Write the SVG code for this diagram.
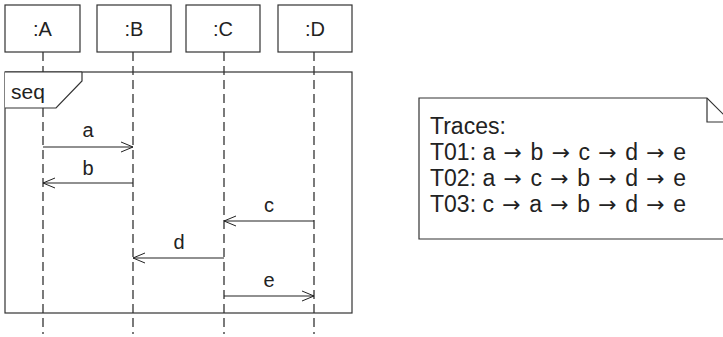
<svg xmlns="http://www.w3.org/2000/svg" width="723" height="337" viewBox="0 0 723 337">
<defs>
<marker id="open" markerWidth="14" markerHeight="12" refX="13" refY="6" orient="auto" markerUnits="userSpaceOnUse">
<path d="M1,1 L13,6 L1,11" fill="none" stroke="#222" stroke-width="1"/>
</marker>
</defs>
<style>
.box{fill:#fff;stroke:#333;stroke-width:1.2}
.life{stroke:#222;stroke-width:1.2;stroke-dasharray:9,5;fill:none}
.msg{stroke:#222;stroke-width:1.2;fill:none;marker-end:url(#open)}
text{font-family:"Liberation Sans",Arial,sans-serif;fill:#222}
.lbl{font-size:20px;text-anchor:middle}
.ml{font-size:20px;text-anchor:middle}
.sq{font-size:21px}
.nt{font-size:23px}
.ar{font-family:"DejaVu Sans",sans-serif;font-size:22px}
</style>
<g id="lifelines">
<line class="life" x1="43" y1="52" x2="43" y2="334"/>
<line class="life" x1="133" y1="52" x2="133" y2="334"/>
<line class="life" x1="224" y1="52" x2="224" y2="334"/>
<line class="life" x1="314" y1="52" x2="314" y2="334"/>
</g>
<g id="frame">
<rect x="5" y="72" width="347" height="241" fill="none" stroke="#333" stroke-width="1.2"/>
<path d="M5,72 L82,72 L82,81 L56,108 L5,108 Z" fill="#fff" stroke="none"/>
<path d="M5,108 L56,108 L82,81 L82,72" fill="none" stroke="#333" stroke-width="1.2"/>
<line x1="5" y1="72" x2="82" y2="72" stroke="#333" stroke-width="1.2"/>
<text class="sq" x="11" y="99">seq</text>
</g>
<g id="A"><rect class="box" x="5" y="5" width="75" height="47"/><text class="lbl" x="42.5" y="36">:A</text></g>
<g id="B"><rect class="box" x="97" y="5" width="74" height="47"/><text class="lbl" x="134" y="36">:B</text></g>
<g id="C"><rect class="box" x="186" y="5" width="74" height="47"/><text class="lbl" x="223" y="36">:C</text></g>
<g id="D"><rect class="box" x="278" y="5" width="74" height="47"/><text class="lbl" x="315" y="36">:D</text></g>
<g id="connectors">
<line class="msg" x1="43" y1="147" x2="133" y2="147"/>
<line class="msg" x1="133" y1="183" x2="43" y2="183"/>
<line class="msg" x1="314" y1="221" x2="224" y2="221"/>
<line class="msg" x1="224" y1="258" x2="133" y2="258"/>
<line class="msg" x1="224" y1="296" x2="314" y2="296"/>
<text class="ml" x="88" y="137">a</text>
<text class="ml" x="88" y="175">b</text>
<text class="ml" x="269" y="212">c</text>
<text class="ml" x="179" y="249">d</text>
<text class="ml" x="269" y="287">e</text>
</g>
<g id="note">
<path d="M419,98 L707,98 L731,122 L731,239 L419,239 Z" fill="#fff" stroke="#333" stroke-width="1.2"/>
<path d="M707,98 L707,122 L731,122" fill="none" stroke="#333" stroke-width="1.2"/>
<text class="nt" x="430" y="134">Traces:</text>
<text class="nt" x="430" y="160">T01: a <tspan class="ar" dx="2">→</tspan><tspan dx="2"> b </tspan><tspan class="ar" dx="2">→</tspan><tspan dx="2"> c </tspan><tspan class="ar" dx="2">→</tspan><tspan dx="2"> d </tspan><tspan class="ar" dx="2">→</tspan><tspan dx="2"> e</tspan></text>
<text class="nt" x="430" y="186">T02: a <tspan class="ar" dx="2">→</tspan><tspan dx="2"> c </tspan><tspan class="ar" dx="2">→</tspan><tspan dx="2"> b </tspan><tspan class="ar" dx="2">→</tspan><tspan dx="2"> d </tspan><tspan class="ar" dx="2">→</tspan><tspan dx="2"> e</tspan></text>
<text class="nt" x="430" y="212">T03: c <tspan class="ar" dx="2">→</tspan><tspan dx="2"> a </tspan><tspan class="ar" dx="2">→</tspan><tspan dx="2"> b </tspan><tspan class="ar" dx="2">→</tspan><tspan dx="2"> d </tspan><tspan class="ar" dx="2">→</tspan><tspan dx="2"> e</tspan></text>
</g>
</svg>
